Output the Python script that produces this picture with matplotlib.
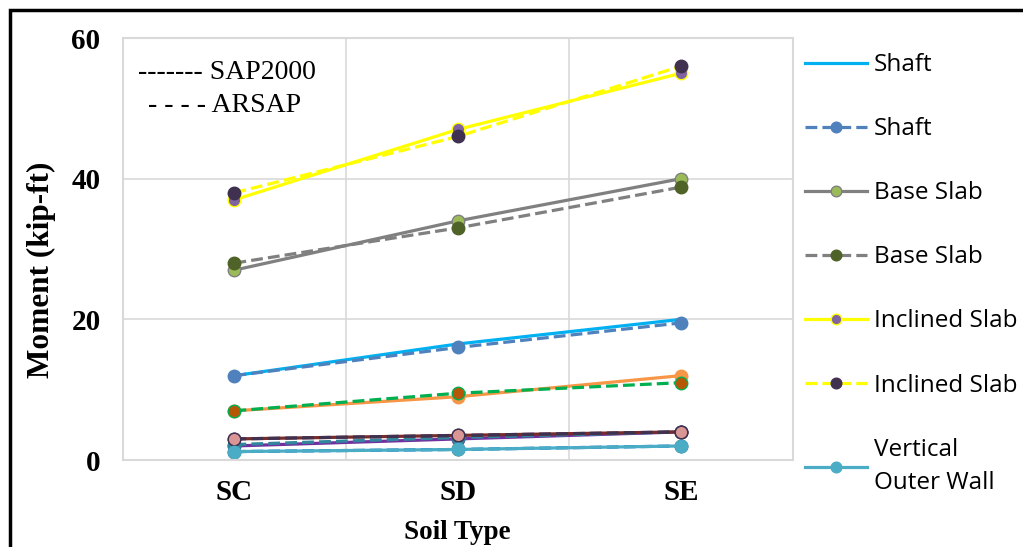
import matplotlib.pyplot as plt
import matplotlib.patches as mpatches
import numpy as np

soil = ["SC", "SD", "SE"]

shaft_sap = [12, 16.5, 20]
shaft_ars = [12, 16, 19.5]
base_sap = [27, 34, 40]
base_ars = [28, 33, 38.8]
incl_sap = [37, 47, 55]
incl_ars = [38, 46, 56]
vow_sap = [1.2, 1.5, 2]
vow_ars = [1.2, 1.5, 2]
# series below the legend cut-off
orange_sap = [7, 9, 12]
green_ars = [7, 9.5, 11]
purple_sap = [2, 3, 4]
teal_ars = [2.2, 3.2, 4]
red_sap = [3, 3.5, 4]
navy_ars = [3, 3.5, 4]

fig = plt.figure(figsize=(10.23, 5.47), dpi=100)
ax = fig.add_axes([0.120, 0.159, 0.655, 0.7715])
x = np.arange(len(soil))

lw = 2.3
ms = 9

# hidden lower series
ax.plot(x, purple_sap, '-', color='#7030A0', lw=lw, marker='o', ms=ms, mfc='#8EB4E3', mec='#7030A0')
ax.plot(x, teal_ars, '--', color='#31859C', lw=lw, marker='o', ms=ms, mfc='#31859C', mec='#31859C')
ax.plot(x, red_sap, '-', color='#772C2A', lw=lw, marker='o', ms=ms, mfc='#D99694', mec='#403151')
ax.plot(x, navy_ars, '--', color='#403151', lw=lw, marker='o', ms=ms, mfc='#D99694', mec='#403151')
ax.plot(x, orange_sap, '-', color='#F79646', lw=lw, marker='o', ms=ms, mfc='#F79646', mec='#F79646')
ax.plot(x, green_ars, '--', color='#00B050', lw=lw, marker='o', ms=ms, mfc='#B65708', mec='#00B050')

h = []
h += ax.plot(x, shaft_sap, '-', color='#00B0F0', lw=lw, label='Shaft')
h += ax.plot(x, shaft_ars, '--', color='#4F81BD', lw=lw, marker='o', ms=ms,
             mfc='#4F81BD', mec='#4F81BD', label='Shaft')
h += ax.plot(x, base_sap, '-', color='#808080', lw=lw, marker='o', ms=ms,
             mfc='#9BBB59', mec='#808080', label='Base Slab')
h += ax.plot(x, base_ars, '--', color='#808080', lw=lw, marker='o', ms=ms,
             mfc='#4F6228', mec='#4F6228', label='Base Slab')
h += ax.plot(x, incl_sap, '-', color='#FFFF00', lw=lw, marker='o', ms=ms,
             mfc='#8064A2', mec='#FFFF00', label='Inclined Slab')
h += ax.plot(x, incl_ars, '--', color='#FFFF00', lw=lw, marker='o', ms=ms,
             mfc='#403151', mec='#403151', label='Inclined Slab')
h += ax.plot(x, vow_sap, '-', color='#4BACC6', lw=lw, marker='o', ms=ms,
             mfc='#4BACC6', mec='#4BACC6', label='Vertical\nOuter Wall')
ax.plot(x, vow_ars, '--', color='#0070C0', lw=lw, marker='o', ms=ms,
        mfc='#215968', mec='#215968')
# keep dashed blue over the light teal line
ax.lines[-1].set_zorder(1.9)

ax.set_xlim(-0.5, 2.5)
ax.set_ylim(0, 60)
ax.set_yticks([0, 20, 40, 60])
ax.set_xticks(x)
ax.set_xticklabels(soil)
ax.set_xticks([0.5, 1.5], minor=True)
ax.grid(False)
ax.yaxis.grid(True, color='#D9D9D9', lw=1.2)
ax.xaxis.grid(True, which='minor', color='#D9D9D9', lw=1.2)
ax.set_axisbelow(True)
ax.tick_params(which='both', length=0)
ax.tick_params(axis='y', pad=16)
ax.tick_params(axis='x', pad=14)
for s in ax.spines.values():
    s.set_color('#D9D9D9')
    s.set_linewidth(1.5)

serif = 'Liberation Serif'
for t in ax.get_xticklabels() + ax.get_yticklabels():
    t.set_fontfamily(serif)
    t.set_fontweight('bold')
    t.set_fontsize(21)
ax.set_ylabel('Moment (kip-ft)', fontfamily=serif, fontweight='bold', fontsize=22.5)
ax.yaxis.set_label_coords(-0.099, 0.45)
ax.set_xlabel('Soil Type', fontfamily=serif, fontweight='bold', fontsize=19.5, labelpad=10)

fig.text(0.135, 0.868, '------- SAP2000', fontfamily=serif, fontsize=20, va='center')
fig.text(0.145, 0.808, '- - - - ARSAP', fontfamily=serif, fontsize=20, va='center')

leg = fig.legend(handles=h, loc='upper left', bbox_to_anchor=(0.766, 0.943),
                 frameon=False, prop={'family': 'Open Sans', 'size': 17.5},
                 handlelength=2.55, handletextpad=0.25, labelspacing=1.65,
                 markerscale=0.85)
leg.get_texts()[-1].set_linespacing(1.5)

fig.add_artist(mpatches.Rectangle((10 / 1023, -0.1), 1.2, 1.1 - 10 / 547,
                                  transform=fig.transFigure, fill=False,
                                  edgecolor='black', lw=2.5))

fig.savefig('out.png', dpi=100)
